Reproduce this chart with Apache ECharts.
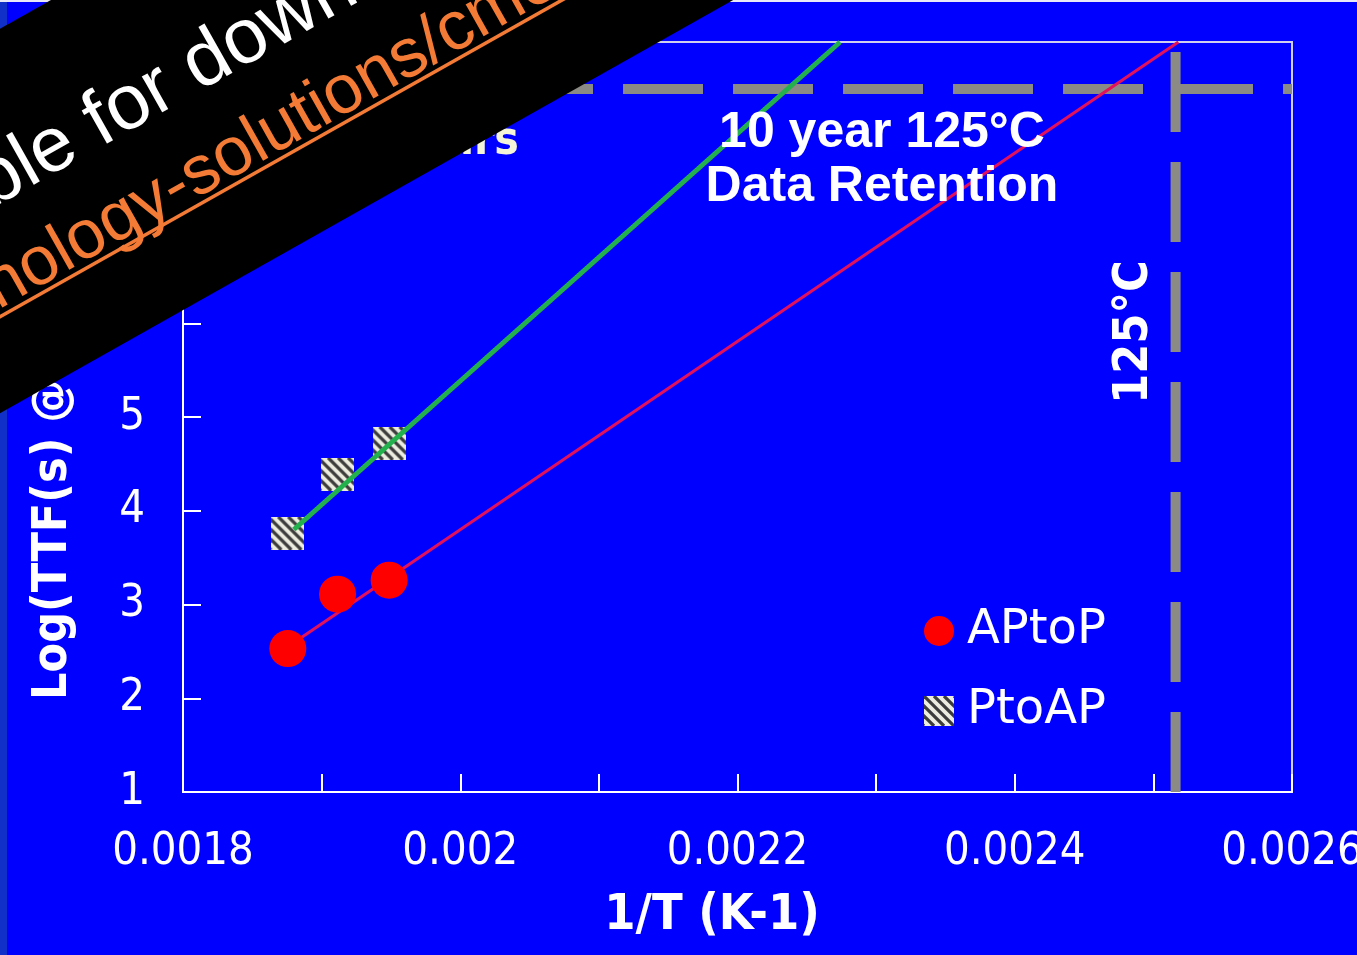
<!DOCTYPE html>
<html>
<head>
<meta charset="utf-8">
<title>Log(TTF) vs 1/T</title>
<script src="https://cdn.jsdelivr.net/npm/echarts@6/dist/echarts.min.js"></script>
<style>
html,body{margin:0;padding:0;background:#0000ff;}
#chart{width:1357px;height:955px;}
</style>
</head>
<body>
<div id="chart"></div>
<script>
// measured points, 1/T = 1/(533,523,513 K)
var invT = [0.0018756, 0.0019115, 0.0019487];
var apToP = [2.53, 3.11, 3.26];
var pToAp = [3.76, 4.39, 4.72];
// fitted lines (start, end where they leave the plot)
var apToPFit = [[0.0018756, 2.55], [0.002518, 9]];
var pToApFit = [[0.00188, 3.8], [0.002274, 9]];
// 10 years = log10(3.15e8 s), 125C = 1/398 K
var tenYears = 8.5;
var invT125 = 0.002516;
var xRange = [0.0018, 0.0026];
var yRange = [1, 9];

var tickFont = "'DejaVu Sans Condensed', 'Liberation Sans', sans-serif";
var boldFont = "bold 50px 'DejaVu Sans Condensed', 'Liberation Sans', sans-serif";

function pairs(xs, ys){
	return xs.map(function(x, i){ return [x, ys[i]]; });
}

// hatched square used as the PtoAP symbol
function hatch(size){
	var c = document.createElement('canvas');
	c.width = size; c.height = size;
	var g = c.getContext('2d');
	g.fillStyle = '#ecece0';
	g.fillRect(0, 0, size, size);
	g.strokeStyle = '#3c3c3c';
	g.lineWidth = 3.2;
	for (var k = -size; k <= size; k += 10) {
		g.beginPath(); g.moveTo(k, 0); g.lineTo(k + size, size); g.stroke();
	}
	return 'image://' + c.toDataURL();
}

var chart = echarts.init(document.getElementById('chart'));
var white = '#ffffff';
var orange = '#f47b36';

var option = {
	backgroundColor: '#0000ff',
	animation: false,
	grid: {left: 183, right: 65, top: 42, bottom: 163, show: true, borderColor: '#d0d0ee', borderWidth: 2, outerBoundsMode: 'none'},
	legend: {
		orient: 'vertical', left: 919, top: 602, itemWidth: 30, itemHeight: 30, itemGap: 32,
		data: [{name: 'APtoP', icon: 'circle'}, {name: 'PtoAP', icon: hatch(30)}],
		textStyle: {color: white, fontSize: 48, fontFamily: 'DejaVu Sans', padding: [0, 0, 0, 8]}
	},
	xAxis: {
		type: 'value', min: xRange[0], max: xRange[1], interval: 0.0002,
		axisLine: {show: true, onZero: false, lineStyle: {color: white, width: 2}},
		axisTick: {show: true, inside: true, length: 18, lineStyle: {color: white, width: 2}},
		minorTick: {show: true, splitNumber: 2, length: 18, lineStyle: {color: white, width: 2}},
		splitLine: {show: false},
		axisLabel: {color: white, fontSize: 45, fontFamily: tickFont, margin: 38,
			formatter: function(v){ return String(+v.toFixed(4)); }}
	},
	yAxis: {
		type: 'value', min: yRange[0], max: yRange[1], interval: 1,
		axisLine: {show: true, onZero: false, lineStyle: {color: white, width: 2}},
		axisTick: {show: true, inside: true, length: 18, lineStyle: {color: white, width: 2}},
		splitLine: {show: false},
		axisLabel: {color: white, fontSize: 45, fontFamily: tickFont, margin: 38}
	},
	series: [
		{name: '10 years', type: 'line', silent: true, symbol: 'none', z: 1,
			data: [[xRange[0], tenYears], [xRange[1], tenYears]],
			lineStyle: {color: '#8c8a84', width: 10, type: [80, 30]}},
		{name: '125C', type: 'line', silent: true, symbol: 'none', z: 1,
			data: [[invT125, yRange[0]], [invT125, yRange[1]]],
			lineStyle: {color: '#8c8a84', width: 10, type: [80, 30]}},
		{name: 'PtoAP', type: 'scatter', symbol: hatch(33), symbolSize: 33, z: 2,
			data: pairs(invT, pToAp), itemStyle: {opacity: 1}},
		{name: 'PtoAP fit', type: 'line', symbol: 'none', z: 3,
			data: pToApFit, lineStyle: {color: '#22b14c', width: 5}},
		{name: 'APtoP fit', type: 'line', symbol: 'none', z: 2,
			data: apToPFit, lineStyle: {color: '#e3105c', width: 3}},
		{name: 'APtoP', type: 'scatter', symbol: 'circle', symbolSize: 37, z: 3,
			data: pairs(invT, apToP), itemStyle: {color: '#ff0000', opacity: 1}}
	],
	graphic: [
		{type: 'rect', x: 0, y: 0, z: 90, shape: {x: 0, y: 0, width: 7, height: 955}, style: {fill: '#1030c8'}},
		{type: 'rect', x: 0, y: 0, z: 90, shape: {x: 0, y: 0, width: 1357, height: 2}, style: {fill: '#e8e8f8'}},
		{type: 'text', x: 882, y: 160, z: 50,
			style: {text: '10 year 125°C\nData Retention', fill: white, font: "bold 50px 'Liberation Sans', sans-serif",
				align: 'center', verticalAlign: 'middle', lineHeight: 54}},
		{type: 'text', x: 1135, y: 332, z: 50, rotation: Math.PI / 2,
			style: {text: '125°C', fill: white, font: "bold 48px 'DejaVu Sans Condensed', 'Liberation Sans', sans-serif",
				align: 'center', verticalAlign: 'middle'}},
		{type: 'text', x: 519, y: 142, z: 50,
			style: {text: '10 years', fill: '#f4f4d8', font: "bold 46px 'DejaVu Sans Condensed', 'Liberation Sans', sans-serif",
				align: 'right', verticalAlign: 'middle'}},
		{type: 'text', x: 54, y: 700, z: 50, rotation: Math.PI / 2,
			style: {text: 'Log(TTF(s) @ 125°C)', fill: white, font: "bold 48px 'DejaVu Sans Condensed', 'Liberation Sans', sans-serif",
				align: 'left', verticalAlign: 'middle'}},
		{type: 'text', x: 712, y: 916, z: 50,
			style: {text: '1/T (K-1)', fill: white, font: boldFont, align: 'center', verticalAlign: 'middle'}},
		// diagonal banner over the top left corner
		{type: 'group', x: 0, y: 0, rotation: 0.5132, children: [
			{type: 'rect', z: 100, shape: {x: -1000, y: 25, width: 3000, height: 335}, style: {fill: '#000000'}},
			{type: 'text', x: -321, y: 156, z: 101,
				style: {text: 'Available for download at', fill: white, font: "78px 'Liberation Sans', sans-serif",
					align: 'left', verticalAlign: 'middle'}},
			{type: 'text', x: -284, y: 250, z: 101,
				style: {text: 'technology-solutions/cmos', fill: orange, font: "69px 'Liberation Sans', sans-serif",
					align: 'left', verticalAlign: 'middle'}},
			{type: 'line', z: 101, shape: {x1: -1000, y1: 276, x2: 2000, y2: 276}, style: {stroke: orange, lineWidth: 3.5}}
		]}
	]
};
chart.setOption(option);
</script>
</body>
</html>
